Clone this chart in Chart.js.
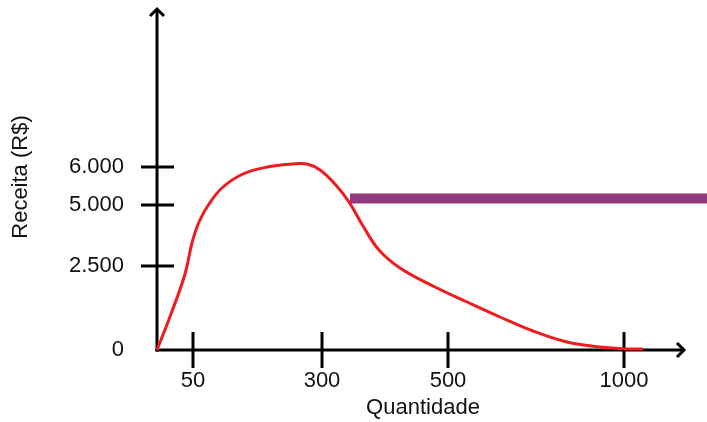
<!DOCTYPE html>
<html>
<head>
<meta charset="utf-8">
<script src="https://cdn.jsdelivr.net/npm/chart.js@4"></script>
<style>
  body { margin: 0; background: #fff; }
  #wrap { width: 707px; height: 422px; }
</style>
</head>
<body>
<div id="wrap"><canvas id="grafico" width="707" height="422"></canvas></div>
<script>
// eixos esquematicos: posicoes nao proporcionais aos valores
const xTickPos = [36, 165, 291, 467];
const xTickLabels = ["50", "300", "500", "1000"];
const yTickPos = [0, 84, 145, 183];
const yTickLabels = ["0", "2.500", "5.000", "6.000"];

// curva da receita
const curvaX = [0, 14, 28, 35, 42, 52, 66, 86, 110, 135, 150, 163, 178, 192, 206, 222, 243, 276, 310, 343, 376, 410, 443, 470, 486];
const curvaY = [0, 36, 76, 107, 128, 146, 163, 176, 183, 186, 186, 180, 166, 148, 124, 100, 82, 64, 48, 33, 19, 8, 3, 1, 1];

// faixa roxa
const faixaX = [193, 550];
const faixaY = [151.5, 151.5];

const FONTE = '22px "Liberation Sans", Arial, sans-serif';

const eixos = {
  id: "eixos",
  beforeDatasetsDraw(chart) {
    const ctx = chart.ctx;
    const sx = chart.scales.x, sy = chart.scales.y;
    const x0 = sx.getPixelForValue(0), y0 = sy.getPixelForValue(0);
    const xEnd = sx.getPixelForValue(528), yEnd = sy.getPixelForValue(342);
    ctx.save();
    ctx.strokeStyle = "#000";
    ctx.lineWidth = 3;
    ctx.lineCap = "butt";
    // eixo y
    ctx.beginPath();
    ctx.moveTo(x0, y0 + 1.5);
    ctx.lineTo(x0, yEnd + 1);
    ctx.stroke();
    ctx.beginPath();
    ctx.moveTo(x0 - 7, yEnd + 8);
    ctx.lineTo(x0, yEnd + 1);
    ctx.lineTo(x0 + 7, yEnd + 8);
    ctx.stroke();
    // eixo x
    ctx.beginPath();
    ctx.moveTo(x0 - 1.5, y0);
    ctx.lineTo(xEnd - 1, y0);
    ctx.stroke();
    ctx.beginPath();
    ctx.moveTo(xEnd - 8, y0 - 7);
    ctx.lineTo(xEnd - 1, y0);
    ctx.lineTo(xEnd - 8, y0 + 7);
    ctx.stroke();

    ctx.fillStyle = "#111";
    ctx.font = FONTE;
    // ticks y
    ctx.textAlign = "right";
    ctx.textBaseline = "middle";
    yTickPos.forEach((v, i) => {
      const py = sy.getPixelForValue(v);
      if (v !== 0) {
        ctx.beginPath();
        ctx.moveTo(x0 - 16, py);
        ctx.lineTo(x0 + 17, py);
        ctx.stroke();
      }
      ctx.fillText(yTickLabels[i], 124, py);
    });
    // ticks x
    ctx.textAlign = "center";
    xTickPos.forEach((v, i) => {
      const px = sx.getPixelForValue(v);
      ctx.beginPath();
      ctx.moveTo(px, y0 - 18);
      ctx.lineTo(px, y0 + 18);
      ctx.stroke();
      ctx.fillText(xTickLabels[i], px, y0 + 31);
    });
    // titulos
    ctx.fillText("Quantidade", 423, 408);
    ctx.save();
    ctx.translate(21, 177);
    ctx.rotate(-Math.PI / 2);
    ctx.fillText("Receita (R$)", 0, 0);
    ctx.restore();
    ctx.restore();
  }
};

new Chart(document.getElementById("grafico"), {
  type: "line",
  data: {
    datasets: [
      {
        label: "Receita",
        data: curvaX.map((x, i) => ({ x: x, y: curvaY[i] })),
        borderColor: "#ee1b1f",
        borderWidth: 3,
        pointRadius: 0,
        tension: 0.4,
        clip: false
      },
      {
        label: "faixa",
        data: faixaX.map((x, i) => ({ x: x, y: faixaY[i] })),
        borderColor: "#913a7f",
        borderWidth: 10,
        borderCapStyle: "butt",
        pointRadius: 0,
        clip: false
      }
    ]
  },
  options: {
    responsive: false,
    animation: false,
    layout: { padding: { left: 157, right: 0, top: 0, bottom: 72 } },
    scales: {
      x: { type: "linear", min: 0, max: 550, display: false },
      y: { type: "linear", min: 0, max: 350, display: false }
    },
    plugins: {
      legend: { display: false },
      tooltip: { enabled: false }
    }
  },
  plugins: [eixos]
});
</script>
</body>
</html>
